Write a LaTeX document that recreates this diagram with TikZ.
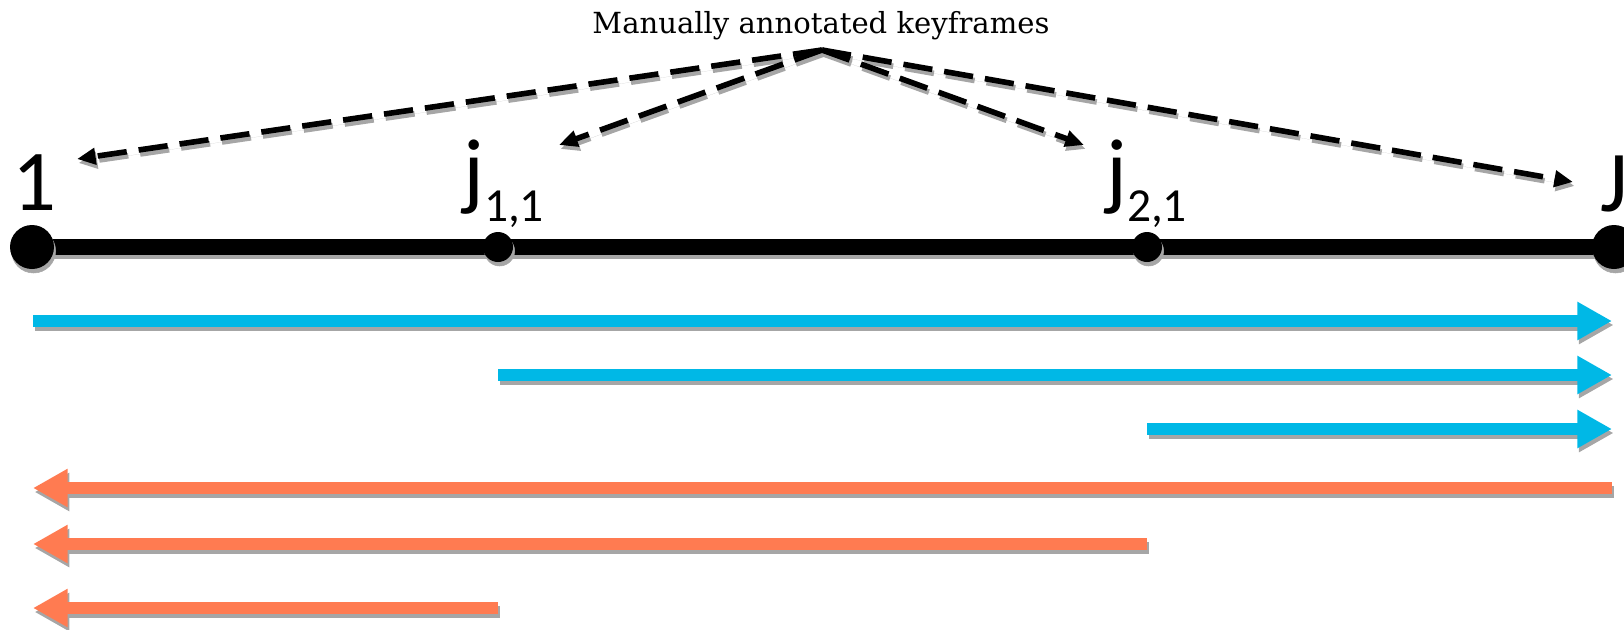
\documentclass[tikz,border=0pt]{standalone}
\usepackage{fontspec}
\usetikzlibrary{arrows.meta}
\newfontfamily\lblfont{Carlito}
\newfontfamily\ttlfont{DejaVu Serif}
\definecolor{arrblue}{HTML}{00B8E6}
\definecolor{arrorange}{HTML}{FF7B51}
\definecolor{shgray}{HTML}{A6A6A6}
\begin{document}
\begin{tikzpicture}[x=0.75pt,y=-0.75pt,
  sh/.style={draw=shgray, fill=shgray, transform canvas={xshift=1.2pt,yshift=-3pt}},
  dashconn/.style={draw=black, line width=4.2pt, dash pattern=on 22pt off 9pt,
     -{Triangle[length=14pt,width=12pt]}},
  blockarrow/.style={line width=8.8pt, -{Triangle[length=26pt,width=27pt]}},
  bigdot/.style={circle, fill=black, minimum size=33pt, inner sep=0pt},
  smalldot/.style={circle, fill=black, minimum size=22.5pt, inner sep=0pt},
  lbl/.style={inner sep=0pt, font=\lblfont\fontsize{65pt}{65pt}\selectfont}
]
\useasboundingbox (0,0) rectangle (1624,629);

% title
\node[anchor=base, inner sep=0pt, font=\ttlfont\fontsize{21.8pt}{24pt}\selectfont] (title) at (821,33) {Manually annotated keyframes};
\coordinate (apex) at (822,50);

% main timeline
\coordinate (d1c) at (32,247);
\coordinate (dJc) at (1614,247);
\draw[line width=12pt, sh] (d1c) -- (dJc);
\draw[line width=12pt] (d1c) -- (dJc);
\foreach \p/\s in {{(32,247)}/33pt,{(498,247)}/22.5pt,{(1147,247)}/22.5pt,{(1614,247)}/33pt}
  \path[sh] \p circle[radius=\s/2];
\node[bigdot] (d1) at (d1c) {};
\node[smalldot] (dj11) at (498,247) {};
\node[smalldot] (dj21) at (1147,247) {};
\node[bigdot] (dJ) at (dJc) {};

% labels
\node[lbl, anchor=base] (l1) at (34,210) {1};
\node[lbl, anchor=base west] (lj11) at (463,199) {j\raisebox{-17pt}{\fontsize{35.6pt}{36pt}\selectfont 1,1}};
\node[lbl, anchor=base west] (lj21) at (1106,199) {j\raisebox{-17pt}{\fontsize{35.6pt}{36pt}\selectfont 2,1}};
\node[lbl, anchor=base west] (lJ) at (1600,211) {J};

% annotation arrows
\coordinate (t1) at (77,159);
\coordinate (t2) at (559,145);
\coordinate (t3) at (1084,145);
\coordinate (t4) at (1573,182);
\foreach \t in {t1,t2,t3,t4} \draw[dashconn, sh] (apex) -- (\t);
\foreach \t in {t1,t2,t3,t4} \draw[dashconn] (apex) -- (\t);

% forward (blue) arrows
\coordinate (b1s) at (33,321);   \coordinate (b1e) at (1612,321);
\coordinate (b2s) at (498,375);  \coordinate (b2e) at (1612,375);
\coordinate (b3s) at (1147,429); \coordinate (b3e) at (1612,429);
% backward (orange) arrows
\coordinate (o1s) at (1612,488); \coordinate (o1e) at (33,488);
\coordinate (o2s) at (1147,544); \coordinate (o2e) at (33,544);
\coordinate (o3s) at (498,608);  \coordinate (o3e) at (33,608);

\foreach \a/\b/\c in {b1s/b1e/arrblue,b2s/b2e/arrblue,b3s/b3e/arrblue,o1s/o1e/arrorange,o2s/o2e/arrorange,o3s/o3e/arrorange}{
  \draw[blockarrow, sh] (\a) -- (\b);
  \draw[blockarrow, \c] (\a) -- (\b);
}
\end{tikzpicture}
\end{document}
